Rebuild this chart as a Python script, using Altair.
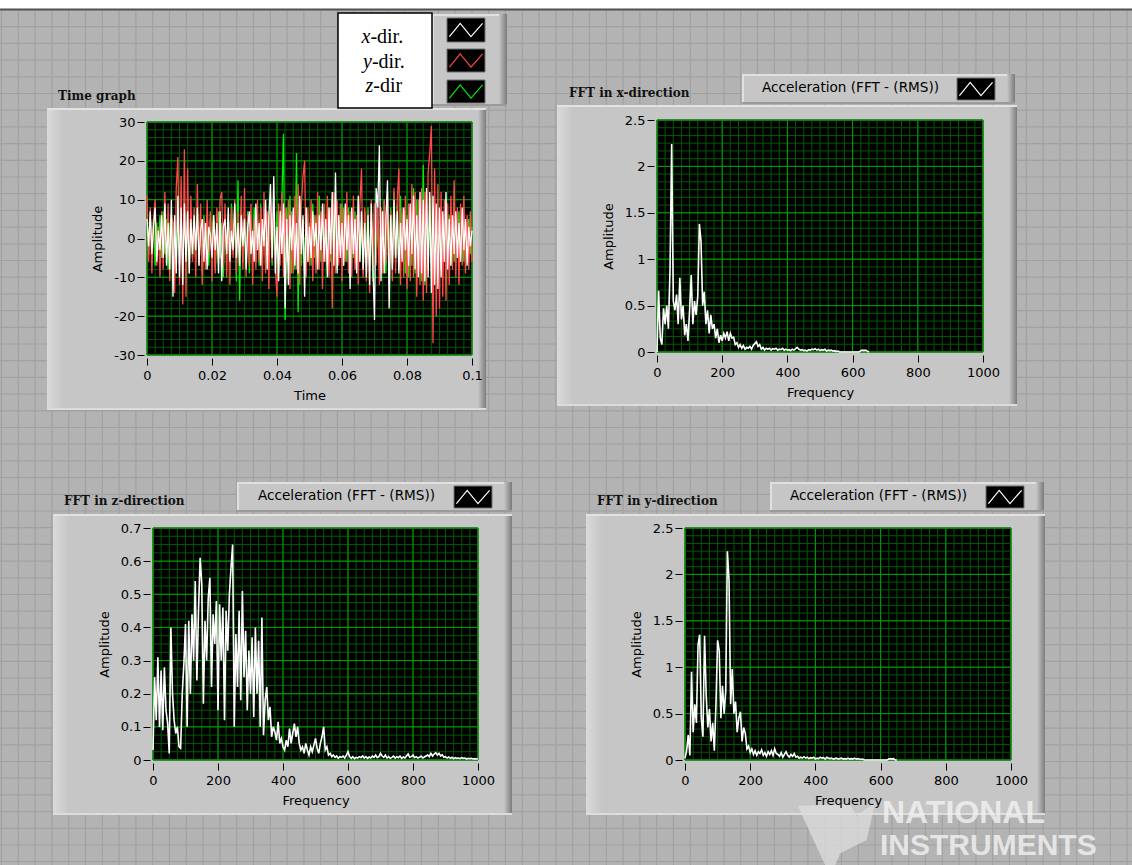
import altair as alt
import numpy as np
import pandas as pd

W, H = 1132, 865

# ---------------- data ----------------
TIME_STEP = 0.0005  # s between samples
time_x_dir = [
    5, -2, 7, -4, 3, 8, -6, 2, -3, 6,
    -5, 9, -7, 4, -8, 10, -15, 6, -9, 11,
    -10, 8, -12, 9, -6, 7, -9, 5, -4, 6,
    -3, 8, -7, 2, 5, -6, 4, -8, 3, 1,
    -5, 6, -3, 4, -9, 7, -11, 3, 5, -4,
    8, -6, 2, -3, 9, -5, 4, -7, 6, -2,
    5, -8, 3, 7, -4, 2, -6, 9, -3, 4,
    -7, 5, -2, 10, -8, 6, 14, -5, 16, -9,
    3, -11, 7, -4, 9, -18, 5, -12, 6, -3,
    8, -7, 4, -9, 11, -4, 6, -15, 8, -6,
    3, -5, 7, -2, 4, -8, 6, -3, 9, -6,
    5, -10, 8, -4, 12, -7, 17, -9, 6, -5,
    4, -7, 9, -3, 6, -13, 8, -4, 5, -9,
    11, -6, 7, -8, 4, -10, 6, -12, 9, -7,
    -21, 13, 8, 24, -11, 7, -9, 5, 15, -18,
    6, -8, 10, -5, 7, -9, 4, -6, 8, -3,
    5, -7, 9, -4, 11, -8, 6, -10, 12, -9,
    10, -11, 13, -10, 12, -14, 11, -12, 9, -13,
    8, -10, 7, -6, 12, -8, 5, -7, 6, -4,
    7, -5, 4, -6, 8, -3, 5, -7, 3, -2,
    2,
]
time_y_dir = [
    11, -6, 8, -9, 5, 10, -7, 3, -10, 7,
    -8, 12, -5, 9, -11, 6, 4, -14, 13, 21,
    -12, 16, -17, 23, -15, 18, -9, 11, -6, 8,
    -10, 14, -7, 9, -12, 5, -8, 10, -4, 7,
    -11, 6, -9, 8, -5, 10, 12, -7, 9, -10,
    6, -12, 8, -5, 10, -9, 7, -6, 11, -8,
    13, -10, 6, -7, 9, -12, 5, -8, 10, -6,
    8, -11, 12, -9, 7, -13, 10, -6, 11, -8,
    -15, 9, -7, 12, -10, 8, -6, 10, -13, 7,
    -9, 11, -8, 14, -12, 9, 16, 20, -10, 8,
    -7, 10, -11, 6, -9, 12, -8, 7, -13, 9,
    -6, 11, -10, 8, -18, 12, -9, 10, -7, 9,
    -11, 8, -6, 12, -9, 7, -10, 11, -8, 6,
    -12, 9, 18, -10, 8, -11, 7, -14, 10, -8,
    9, -7, 11, -12, 8, -9, 10, -6, 12, -10,
    7, -11, 13, -9, 10, 18, -12, 8, -10, 11,
    -13, 9, -11, 14, -10, 12, -15, 10, -12, 13,
    -16, 12, -14, 17, 22, 29, -27, 18, -20, 14,
    -18, 12, -15, 10, -16, 9, -12, 11, -8, 15,
    -10, 8, -12, 9, -7, 11, -9, 6, -8, 7,
    -6,
]
time_z_dir = [
    3, -4, 6, -2, 5, -7, 4, -3, 6, -5,
    7, -4, 5, -8, 3, 6, -6, 4, -5, 8,
    -7, 5, -4, 9, -6, 4, -3, 7, -5, 3,
    -6, 8, -4, 5, -9, 6, -3, 4, -7, 5,
    -4, 6, -8, 3, 7, -5, 4, -10, 6, -3,
    5, -7, 9, -4, 6, -11, 15, -16, 8, -6,
    4, -5, 7, -9, 6, -4, 8, -6, 5, -7,
    9, -5, 6, -8, 4, -6, 10, -7, 5, -4,
    7, -9, 5, 10, 27, -21, 8, -6, 11, -9,
    6, -8, 22, -19, 10, -7, 5, -9, 8, -6,
    4, -7, 9, -5, 6, -8, 11, -6, 7, -4,
    5, -9, 8, -6, 10, -5, 7, -8, 6, -4,
    9, -7, 5, -6, 8, -10, 6, -5, 7, -8,
    10, -6, 4, -9, 7, -5, 8, -7, 6, -11,
    9, -6, 5, -8, 7, -4, 10, -9, 6, -5,
    8, -7, 12, -6, 9, -8, 11, -5, 7, -9,
    6, -10, 8, -7, 13, -9, 10, -8, 7, -11,
    19, -12, 9, -8, 11, -7, 8, -10, 6, -9,
    7, -8, 5, -6, 9, -5, 6, -7, 4, -6,
    5, -4, 7, -5, 3, -6, 4, -3, 5, -4,
    3,
]

FREQ_STEP = 5  # Hz between spectral lines
fft_x_amp = [
    0.0, 0.66, 0.15, 0.08, 0.47, 0.3, 0.5, 0.25, 0.9, 2.24,
    0.55, 0.45, 0.62, 0.3, 0.8, 0.35, 0.5, 0.18, 0.3, 0.12,
    0.45, 0.83, 0.3, 0.55, 0.4, 0.6, 1.38, 1.19, 0.5, 0.65,
    0.3, 0.45, 0.2, 0.4, 0.25, 0.3, 0.15, 0.25, 0.1, 0.18,
    0.12, 0.2, 0.15, 0.22, 0.12, 0.2, 0.15, 0.16, 0.08, 0.1,
    0.05, 0.08, 0.04, 0.07, 0.03, 0.05, 0.04, 0.06, 0.03, 0.07,
    0.09, 0.11, 0.06, 0.08, 0.03, 0.05, 0.02, 0.04, 0.03, 0.04,
    0.02, 0.035, 0.03, 0.04, 0.02, 0.03, 0.025, 0.04, 0.02, 0.03,
    0.02, 0.025, 0.015, 0.03, 0.02, 0.035, 0.05, 0.03, 0.02, 0.025,
    0.015, 0.02, 0.01, 0.025, 0.02, 0.03, 0.025, 0.035, 0.02, 0.03,
    0.015, 0.025, 0.02, 0.03, 0.01, 0.02, 0.015, 0.02, 0.01, 0.015,
    0.005, 0.01, 0.0, 0.0, 0.0, 0.0, 0.0, 0.0, 0.0, 0.0,
    0.0, 0.0, 0.0, 0.0, 0.0, 0.015, 0.02, 0.015, 0.02, 0.01,
    0.0,
]
fft_y_amp = [
    0.02, 0.1, 0.27, 0.05, 0.95, 0.3, 0.6, 0.4, 1.24, 1.35,
    0.45, 0.25, 1.34, 0.7, 0.35, 0.55, 0.2, 0.4, 0.1, 0.6,
    1.29, 1.18, 0.45, 0.8, 0.5, 0.75, 2.25, 1.94, 0.6, 0.98,
    0.5, 0.63, 0.3, 0.45, 0.52, 0.2, 0.35, 0.29, 0.12, 0.15,
    0.08, 0.12, 0.06, 0.1, 0.05, 0.09, 0.07, 0.11, 0.05, 0.08,
    0.04, 0.09, 0.06, 0.1, 0.05, 0.12, 0.07, 0.06, 0.04, 0.08,
    0.03, 0.06, 0.09, 0.05, 0.03, 0.06, 0.04, 0.07, 0.03, 0.04,
    0.02, 0.03, 0.02, 0.035, 0.02, 0.03, 0.015, 0.025, 0.02, 0.03,
    0.01, 0.02, 0.015, 0.03, 0.02, 0.025, 0.01, 0.03, 0.02, 0.015,
    0.02, 0.01, 0.015, 0.02, 0.01, 0.015, 0.02, 0.01, 0.015, 0.01,
    0.02, 0.01, 0.015, 0.01, 0.02, 0.01, 0.015, 0.01, 0.005, 0.01,
    0.0, 0.0, 0.0, 0.0, 0.0, 0.0, 0.0, 0.0, 0.0, 0.0,
    0.0, 0.0, 0.0, 0.0, 0.0, 0.01, 0.015, 0.01, 0.015, 0.0,
    0.0,
]
fft_z_amp = [
    0.03, 0.25, 0.12, 0.31, 0.1, 0.27, 0.09, 0.28, 0.15, 0.11,
    0.02, 0.4, 0.2, 0.12, 0.08, 0.1, 0.04, 0.035, 0.2, 0.29,
    0.41, 0.1, 0.42, 0.2, 0.44, 0.3, 0.54, 0.24, 0.45, 0.61,
    0.53, 0.17, 0.42, 0.3, 0.49, 0.55, 0.22, 0.44, 0.35, 0.48,
    0.15, 0.47, 0.3, 0.46, 0.12, 0.45, 0.33, 0.5, 0.58, 0.65,
    0.1, 0.38, 0.22, 0.45, 0.18, 0.51, 0.25, 0.39, 0.15, 0.33,
    0.2, 0.37, 0.13, 0.4, 0.2, 0.36, 0.1, 0.43, 0.075, 0.18,
    0.22, 0.12, 0.16, 0.07, 0.1, 0.085, 0.06, 0.115, 0.05, 0.065,
    0.04, 0.03, 0.06, 0.04, 0.095, 0.05, 0.08, 0.11, 0.07, 0.1,
    0.05, 0.03, 0.04, 0.02, 0.05, 0.03, 0.015, 0.04, 0.025, 0.045,
    0.065, 0.035, 0.02, 0.05, 0.07, 0.1, 0.03, 0.04, 0.015, 0.02,
    0.01, 0.015, 0.008, 0.012, 0.005, 0.01, 0.008, 0.012, 0.006, 0.015,
    0.025, 0.01, 0.005, 0.01, 0.004, 0.008, 0.006, 0.01, 0.007, 0.012,
    0.006, 0.01, 0.005, 0.009, 0.006, 0.012, 0.008, 0.015, 0.007, 0.01,
    0.02, 0.012, 0.008, 0.015, 0.006, 0.01, 0.005, 0.008, 0.012, 0.006,
    0.01, 0.007, 0.012, 0.005, 0.009, 0.006, 0.012, 0.018, 0.008, 0.01,
    0.015, 0.007, 0.01, 0.006, 0.008, 0.012, 0.006, 0.009, 0.012, 0.015,
    0.01, 0.02, 0.012, 0.018, 0.022, 0.015, 0.02, 0.012, 0.016, 0.008,
    0.01, 0.006, 0.009, 0.005, 0.008, 0.004, 0.007, 0.005, 0.006, 0.004,
    0.007, 0.005, 0.006, 0.003, 0.005, 0.004, 0.005, 0.003, 0.004, 0.003,
    0.004,
]

time_ticks = [0, 0.02, 0.04, 0.06, 0.08, 0.1]
time_amp_ticks = [-30, -20, -10, 0, 10, 20, 30]
freq_ticks = [0, 200, 400, 600, 800, 1000]
amp_ticks_xy = [0, 0.5, 1, 1.5, 2, 2.5]
amp_ticks_z = [0, 0.1, 0.2, 0.3, 0.4, 0.5, 0.6, 0.7]
legend_letters = ["x", "y", "z"]
legend_rest = ["-dir.", "-dir.", "-dir"]
panel_titles = ["Time graph", "FFT in x-direction", "FFT in z-direction", "FFT in y-direction"]
fft_legend_label = "Acceleration (FFT - (RMS))"

# ---------------- styles ----------------
BG = "#b3b3b3"
BG_LINE = "#a1a1a1"
FRAME = "#c6c6c6"
MAJOR = "#00a000"
MINOR = "#005800"
LABEL_FONT = "DejaVu Sans"
TITLE_FONT = "DejaVu Serif"
RED = "#ff4848"
GREEN = "#00ee00"
ZIG = "M-1,0.4L-0.35,-0.4L0.3,0.4L1,-0.4"

one = pd.DataFrame({"k": [0]})


def rect(x0, x1, y0, y1, **kw):
    return alt.Chart(one).mark_rect(**kw).encode(
        x=alt.value(x0), x2=alt.value(x1), y=alt.value(y0), y2=alt.value(y1))


def text(s, x, y, **kw):
    return alt.Chart(one).mark_text(text=s, **kw).encode(x=alt.value(x), y=alt.value(y))


def grad(c0, c1, horizontal=True):
    return {"gradient": "linear", "x1": 0, "y1": 0,
            "x2": 1 if horizontal else 0, "y2": 0 if horizontal else 1,
            "stops": [{"offset": 0, "color": c0}, {"offset": 1, "color": c1}]}


def frame(x0, x1, y0, y1):
    return [
        rect(x0, x1, y0, y1, color=FRAME),
        rect(x0, x0 + 16, y0, y1, fill=grad("#dadada", FRAME)),
        rect(x1 - 8, x1, y0, y1, fill=grad(FRAME, "#7c7c7c")),
        rect(x0, x1, y0, y0 + 2, color="#e2e2e2"),
        rect(x0, x1, y1 - 2, y1, color="#dcdcdc"),
    ]


def raised_box(x0, x1, y0, y1):
    return [
        rect(x0, x1, y0, y1, color=FRAME),
        rect(x0, x1, y0, y0 + 2, color="#e0e0e0"),
        rect(x0, x0 + 2, y0, y1, color="#e0e0e0"),
        rect(x1 - 8, x1, y0, y1, fill=grad(FRAME, "#7a7a7a")),
        rect(x0, x1, y1 - 2, y1, color="#9a9a9a"),
    ]


def swatch(x0, x1, y0, y1, col):
    cx, cy = (x0 + x1) / 2, (y0 + y1) / 2
    return [
        rect(x0, x1, y0, y1, color="black", stroke="#707070", strokeWidth=1),
        alt.Chart(one).mark_point(shape=ZIG, size=1100, filled=False, stroke=col,
                                  strokeWidth=1.2, opacity=1).encode(
            x=alt.value(cx), y=alt.value(cy)),
    ]


def panel(xdom, ydom, px_x, px_y, xticks, yticks, xminor, yminor, series, xtitle):
    xs = alt.Scale(domain=xdom, range=[px_x[0], px_x[1]], nice=False, zero=False)
    ys = alt.Scale(domain=ydom, range=[px_y[1], px_y[0]], nice=False, zero=False)
    common = dict(grid=False, domain=False, ticks=True, tickSize=7, tickColor="#000",
                  tickWidth=1, labelFont=LABEL_FONT, labelFontSize=13, labelColor="#000",
                  labelFlush=False, labelOverlap=False, labelExpr="datum.value + ''",
                  titleFont=LABEL_FONT, titleFontSize=13, titleFontWeight="normal",
                  titleColor="#000", minExtent=0, maxExtent=300, zindex=5)
    xaxis = alt.Axis(orient="bottom", offset=px_y[1] + 3 - H, values=xticks, title=xtitle,
                     labelPadding=4, titlePadding=7, **common)
    yaxis = alt.Axis(orient="left", offset=-(px_x[0] - 3), values=yticks, title="Amplitude",
                     labelPadding=2, titlePadding=9, **common)
    box = pd.DataFrame({"x0": [xdom[0]], "x1": [xdom[1]], "y0": [ydom[0]], "y1": [ydom[1]]})
    # first child carries the axes; the others leave the axis unspecified
    layers = [
        alt.Chart(box).mark_rect(color="black", stroke="#8a8a8a", strokeWidth=1).encode(
            x=alt.X("x0:Q", scale=xs, axis=xaxis), x2="x1:Q",
            y=alt.Y("y0:Q", scale=ys, axis=yaxis), y2="y1:Q")
    ]
    xmin = np.arange(xdom[0], xdom[1] + 1e-9, xminor)
    ymin = np.arange(ydom[0], ydom[1] + 1e-9, yminor)
    for vx, vy, col in ((xmin, ymin, MINOR), (xticks, yticks, MAJOR)):
        layers.append(alt.Chart(pd.DataFrame({"g": vx})).mark_rule(color=col, strokeWidth=1).encode(
            x=alt.X("g:Q", scale=xs),
            y=alt.Y(datum=ydom[0], type="quantitative", scale=ys),
            y2=alt.Y2(datum=ydom[1])))
        layers.append(alt.Chart(pd.DataFrame({"g": vy})).mark_rule(color=col, strokeWidth=1).encode(
            y=alt.Y("g:Q", scale=ys),
            x=alt.X(datum=xdom[0], type="quantitative", scale=xs),
            x2=alt.X2(datum=xdom[1])))
    for vals, step, col, sw in series:
        df = pd.DataFrame({"t": np.arange(len(vals)) * step, "v": vals})
        layers.append(alt.Chart(df).mark_line(color=col, strokeWidth=sw, interpolate="linear").encode(
            x=alt.X("t:Q", scale=xs),
            y=alt.Y("v:Q", scale=ys)))
    return alt.layer(*layers)


# ---------------- background ----------------
pix_x = alt.Scale(domain=[0, W], range=[0, W], nice=False, zero=False)
pix_y = alt.Scale(domain=[0, H], range=[0, H], nice=False, zero=False)
bg_v = alt.Chart(alt.sequence(1.5, W, 16.8, as_="p")).mark_rule(
    color=BG_LINE, strokeWidth=1.2).encode(
    x=alt.X("p:Q", scale=pix_x, axis=None), y=alt.value(10), y2=alt.value(H))
bg_h = alt.Chart(alt.sequence(26.7, H, 16.7, as_="p")).mark_rule(
    color=BG_LINE, strokeWidth=1.2).encode(
    y=alt.Y("p:Q", scale=pix_y, axis=None), x=alt.value(0), x2=alt.value(W))

layers = [bg_v, bg_h,
          rect(0, W, 0, 9, color="white"),
          rect(0, W, 8.5, 10.5, color="#505050")]

# frames
layers += frame(47, 486, 108, 410)
layers += frame(557, 1017, 105, 406)
layers += frame(53, 512, 514, 815)
layers += frame(586, 1045, 514, 815)

# panel titles
tstyle = dict(align="left", baseline="middle", font=TITLE_FONT, fontSize=12,
              fontWeight="bold", color="#111")
layers += [text(panel_titles[0], 58, 96, **tstyle),
           text(panel_titles[1], 569, 93, **tstyle),
           text(panel_titles[2], 64, 501, **tstyle),
           text(panel_titles[3], 597, 501, **tstyle)]

# FFT legends
lstyle = dict(align="left", baseline="middle", font=LABEL_FONT, fontSize=13.6, color="#000")
for (bx0, bx1, by0, by1), tx in (((742, 1015, 74, 104), 762),
                                 ((237, 512, 482, 512), 258),
                                 ((770, 1044, 482, 512), 790)):
    layers += raised_box(bx0, bx1, by0, by1)
    layers.append(text(fft_legend_label, tx, (by0 + by1) / 2 - 1, **lstyle))
    layers += swatch(bx1 - 58, bx1 - 20, by0 + 4, by1 - 4, "white")

# top legend (time graph plots)
layers += raised_box(432, 507, 14, 106)
layers.append(rect(338, 432, 13, 108, color="white", stroke="black", strokeWidth=1.5))
starts = [361.5, 363, 365.5]
rows_y = [37, 62, 86]
widths = [8.9, 8.9, 7.8]
for i in range(3):
    layers.append(text(legend_letters[i], starts[i], rows_y[i], align="left", baseline="middle",
                       font="Liberation Serif", fontSize=20, fontStyle="italic", color="#000"))
    layers.append(text(legend_rest[i], starts[i] + widths[i], rows_y[i], align="left",
                       baseline="middle", font="Liberation Serif", fontSize=20, color="#000"))
for (y0, y1), col in zip(((18, 42), (49, 72), (80, 103)), ("white", RED, GREEN)):
    layers += swatch(447, 485, y0, y1, col)

# ---------------- panels ----------------
layers.append(panel([0, 0.1], [-30, 30], (147, 472), (122, 355), time_ticks, time_amp_ticks,
                    0.0025, 2,
                    [(time_z_dir, TIME_STEP, GREEN, 1.3),
                     (time_y_dir, TIME_STEP, RED, 1.3),
                     (time_x_dir, TIME_STEP, "white", 1.3)], "Time"))
layers.append(panel([0, 1000], [0, 2.5], (657, 983), (120, 352), freq_ticks, amp_ticks_xy,
                    25, 0.5 / 6, [(fft_x_amp, FREQ_STEP, "white", 1.6)], "Frequency"))
layers.append(panel([0, 1000], [0, 0.7], (153, 478), (528, 760), freq_ticks, amp_ticks_z,
                    25, 0.025, [(fft_z_amp, FREQ_STEP, "white", 1.6)], "Frequency"))
layers.append(panel([0, 1000], [0, 2.5], (685, 1011), (528, 760), freq_ticks, amp_ticks_xy,
                    25, 0.5 / 6, [(fft_y_amp, FREQ_STEP, "white", 1.6)], "Frequency"))

# watermark
LOGO = ("M-0.91,-0.67L0.33,-0.71L0.49,-0.43L0.93,-0.75L0.73,0.14L0.1,0.46"
        "L-0.02,0.74L-0.26,0.74Z")
layers.append(alt.Chart(one).mark_point(shape=LOGO, size=7056, filled=True, fill="#dedede",
                                        opacity=0.75, strokeWidth=0).encode(
    x=alt.value(836), y=alt.value(834)))
wstyle = dict(align="left", baseline="middle", font="Liberation Sans", fontWeight="bold",
              color="#f2f2f2", opacity=0.8)
layers.append(text("NATIONAL", 882, 813, fontSize=32, **wstyle))
layers.append(text("INSTRUMENTS", 880, 846, fontSize=30, **wstyle))

chart = alt.layer(*layers).resolve_scale(x="independent", y="independent").resolve_axis(
    x="independent", y="independent").properties(
    width=W, height=H, autosize=alt.AutoSizeParams(type="none"), padding=0,
    background=BG).configure_view(strokeWidth=0)

chart.save("out.html", embed_options={"renderer": "svg", "actions": False})
